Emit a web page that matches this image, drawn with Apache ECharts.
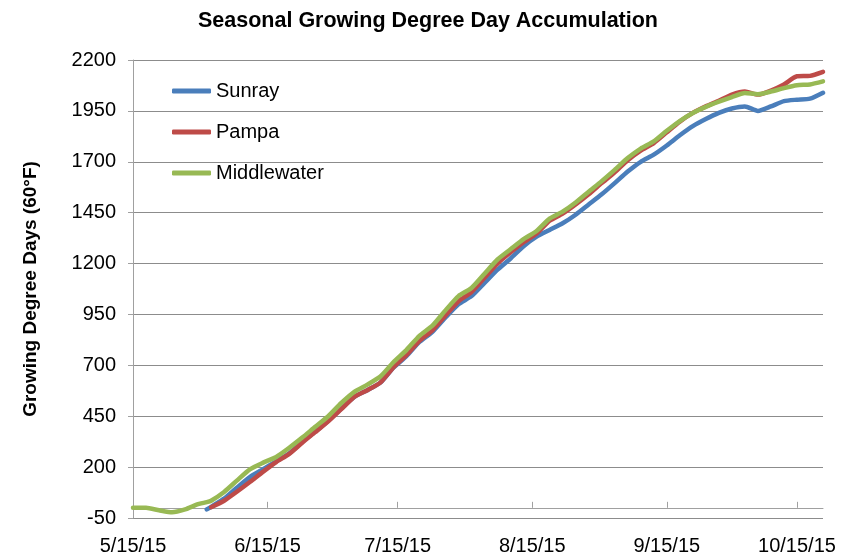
<!DOCTYPE html>
<html>
<head>
<meta charset="utf-8">
<script src="https://cdn.jsdelivr.net/npm/echarts@6/dist/echarts.min.js"></script>
<style>html,body{margin:0;padding:0;background:#fff}#c{width:856px;height:556px}</style>
</head>
<body>
<div id="c"></div>
<script>
// Sample dates
const sampleDates = ['5/15/15','5/18/15','5/21/15','5/24/15','5/27/15','5/30/15','6/1/15','6/2/15','6/5/15','6/8/15',
 '6/11/15','6/14/15','6/17/15','6/20/15','6/23/15','6/26/15','6/29/15','7/2/15','7/5/15','7/8/15',
 '7/11/15','7/14/15','7/17/15','7/20/15','7/23/15','7/26/15','7/29/15','8/1/15','8/4/15','8/7/15',
 '8/10/15','8/13/15','8/16/15','8/19/15','8/22/15','8/25/15','8/28/15','8/31/15','9/3/15','9/6/15',
 '9/9/15','9/12/15','9/15/15','9/18/15','9/21/15','9/24/15','9/27/15','9/30/15','10/3/15','10/6/15',
 '10/9/15','10/12/15','10/15/15','10/18/15','10/21/15'];

const sunray = [null,null,null,null,null,null,-8,5,45,100,
 152,190,228,268,325,375,428,488,545,578,
 615,688,745,815,865,935,1000,1040,1105,1170,
 1225,1285,1332,1365,1398,1440,1490,1540,1595,1652,
 1700,1735,1780,1830,1875,1910,1940,1962,1972,1950,
 1972,1998,2005,2010,2039];

const pampa = [null,null,null,null,null,null,null,3,35,80,
 128,178,225,265,320,372,425,485,545,578,
 615,690,750,820,872,945,1015,1060,1130,1200,
 1255,1305,1348,1410,1445,1490,1540,1595,1648,1708,
 1755,1792,1845,1897,1940,1972,2000,2030,2045,2030,
 2050,2080,2120,2122,2142];

const middlewater = [0,0,-12,-22,-8,18,28,35,78,135,
 190,222,250,295,345,398,450,515,570,605,
 645,715,775,845,895,970,1040,1080,1150,1220,
 1270,1320,1360,1421,1455,1500,1553,1605,1660,1718,
 1765,1800,1852,1900,1940,1970,1995,2018,2038,2032,
 2045,2062,2076,2080,2095];

const seriesNames = ['Sunray','Pampa','Middlewater'];
const seriesColors = ['#4a7ebb','#be4b48','#98b954'];

// daily category axis from 5/15/15 to 10/21/15
const axisDates = [];
(function(){
  const d = new Date(2015, 4, 15);
  const end = new Date(2015, 9, 21);
  while (d <= end) {
    axisDates.push((d.getMonth()+1) + '/' + d.getDate() + '/' + String(d.getFullYear()).slice(2));
    d.setDate(d.getDate()+1);
  }
})();
const isMonthTick = (i, v) => /^\d+\/15\//.test(v);

function pairs(vals){
  const out = [];
  vals.forEach((v,i)=>{ if (v !== null) out.push([sampleDates[i], v]); });
  return out;
}
const allVals = [sunray, pampa, middlewater];

const font = 'Liberation Sans, Arial, sans-serif';
const chart = echarts.init(document.getElementById('c'));
chart.setOption({
  animation: false,
  title: {
    text: 'Seasonal Growing Degree Day Accumulation',
    left: 'center', top: 5,
    textStyle: {fontFamily: font, fontSize: 21.5, fontWeight: 'bold', color: '#000'}
  },
  legend: {
    orient: 'vertical', left: 167, top: 76,
    itemWidth: 39, itemHeight: 5, itemGap: 21,
    icon: 'roundRect',
    textStyle: {fontFamily: font, fontSize: 20, color: '#000'},
    data: seriesNames
  },
  grid: {left: 133, right: 33, top: 60, bottom: 29, containLabel: false},
  xAxis: {
    type: 'category', data: axisDates, boundaryGap: false,
    axisLine: {onZero: true, lineStyle: {color: '#a0a0a0', width: 1}},
    axisTick: {inside: true, length: 6, interval: isMonthTick, lineStyle: {color: '#a0a0a0'}},
    axisLabel: {interval: isMonthTick, margin: 18, fontFamily: font, fontSize: 20, color: '#000'},
    splitLine: {show: false}
  },
  yAxis: {
    type: 'value', min: -50, max: 2200, interval: 250,
    name: 'Growing Degree Days (60°F)', nameLocation: 'middle', nameGap: 93,
    nameTextStyle: {fontFamily: font, fontSize: 19, fontWeight: 'bold', color: '#000'},
    axisLine: {show: true, lineStyle: {color: '#a0a0a0'}},
    axisTick: {show: true, length: 5, lineStyle: {color: '#a0a0a0'}},
    axisLabel: {margin: 17, fontFamily: font, fontSize: 20, color: '#000', formatter: v => String(v)},
    splitLine: {lineStyle: {color: '#8c8c8c', width: 1}}
  },
  series: seriesNames.map((n, k) => ({
    name: n, type: 'line', data: pairs(allVals[k]),
    showSymbol: false, connectNulls: true, smooth: 0.2,
    color: seriesColors[k],
    lineStyle: {width: 4.5, color: seriesColors[k], cap: 'round', join: 'round'}
  }))
});
</script>
</body>
</html>
